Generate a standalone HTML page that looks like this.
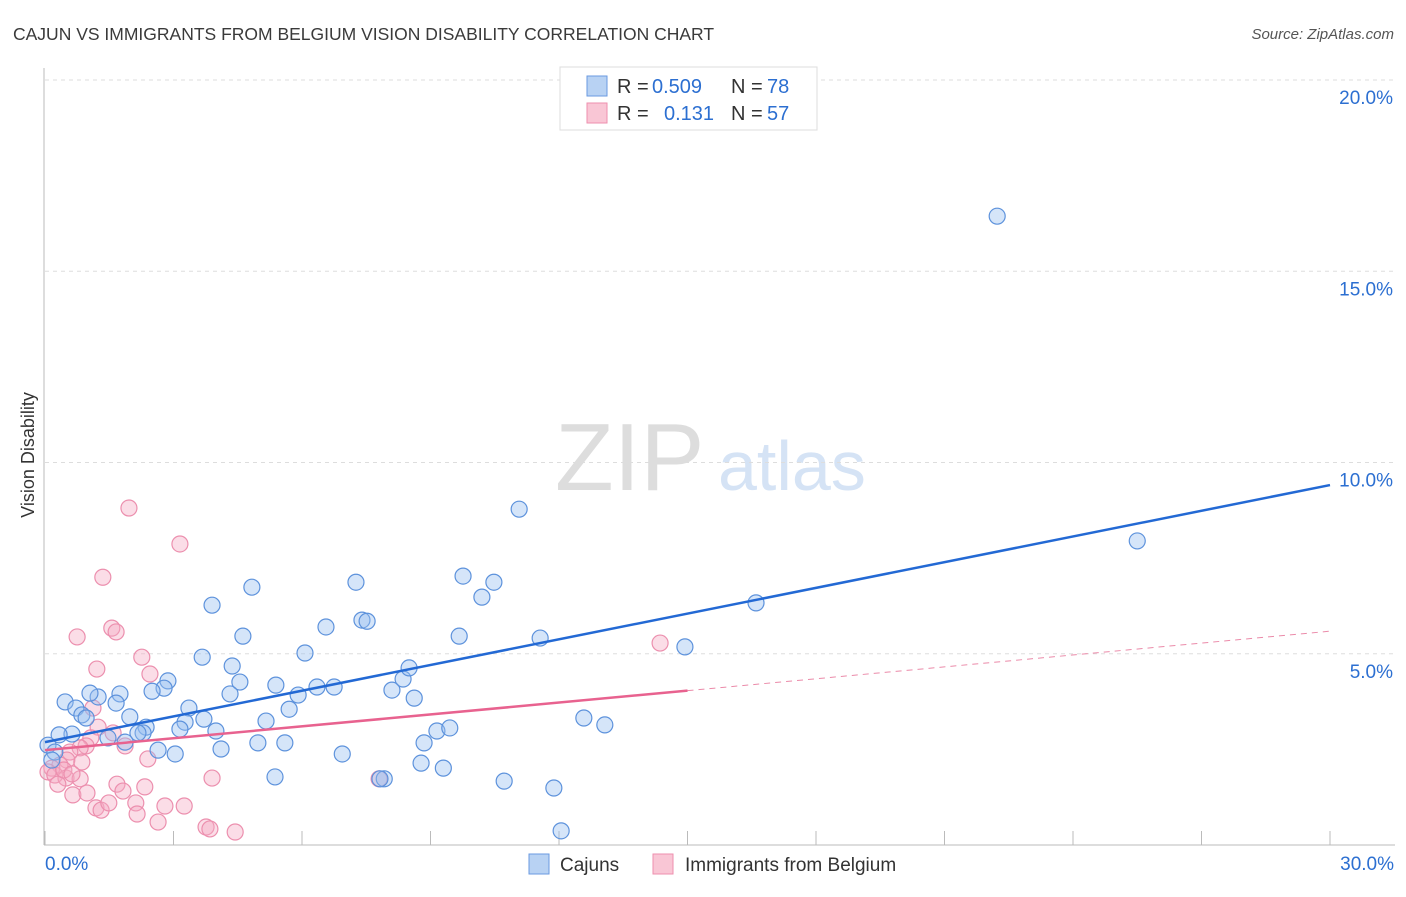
<!DOCTYPE html>
<html><head><meta charset="utf-8"><style>
body{margin:0;background:#fff;font-family:"Liberation Sans",sans-serif;}
svg text{font-family:"Liberation Sans",sans-serif;}
</style></head><body>
<svg id="chart" width="1406" height="892">
<text x="13" y="40" font-size="17.5" fill="#3a3a3a">CAJUN VS IMMIGRANTS FROM BELGIUM VISION DISABILITY CORRELATION CHART</text>
<text x="1394" y="39" font-size="15" fill="#555" font-style="italic" text-anchor="end">Source: ZipAtlas.com</text>
<text x="0" y="0" font-size="18" fill="#333" transform="translate(34,455) rotate(-90)" text-anchor="middle">Vision Disability</text>
<g><text x="555" y="490" font-size="96" fill="#ddd" font-family="Liberation Serif">ZIP</text><text x="718" y="490" font-size="70" fill="#d5e3f5">atlas</text></g>
<g id="grid"></g><g id="axes"></g><g id="pts"></g><g id="lines"></g>
<g>
<rect x="560" y="67" width="257" height="63" fill="#fff" stroke="#ddd"/>
<rect x="587" y="76" width="20" height="20" fill="#b8d2f3" stroke="#6a9ae0"/>
<rect x="587" y="103" width="20" height="20" fill="#f9c6d5" stroke="#ee8fae"/>
<text x="617" y="93" font-size="20" fill="#333">R =</text>
<text x="652" y="93" font-size="20" fill="#2c6fd1">0.509</text>
<text x="731" y="93" font-size="20" fill="#333">N =</text>
<text x="767" y="93" font-size="20" fill="#2c6fd1">78</text>
<text x="617" y="120" font-size="20" fill="#333">R =</text>
<text x="664" y="120" font-size="20" fill="#2c6fd1">0.131</text>
<text x="731" y="120" font-size="20" fill="#333">N =</text>
<text x="767" y="120" font-size="20" fill="#2c6fd1">57</text>
</g>
<g>
<rect x="529" y="854" width="20" height="20" fill="#b8d2f3" stroke="#6a9ae0"/>
<text x="560" y="871" font-size="19" fill="#333">Cajuns</text>
<rect x="653" y="854" width="20" height="20" fill="#f9c6d5" stroke="#ee8fae"/>
<text x="685" y="871" font-size="19" fill="#333">Immigrants from Belgium</text>
</g>
</svg>
<script>
const yTicks=[5,10,15,20];
const yTickLabels=["5.0%","10.0%","15.0%","20.0%"];
const xTicks=[0,3,6,9,12,15,18,21,24,27,30];
const cajunX=[22.23,25.50,16.60,14.94,11.07,9.76,10.48,10.20,11.56,9.67,7.26,7.40,7.52,6.56,4.83,3.90,4.62,6.07,3.67,4.37,4.55,5.39,2.87,2.78,2.50,1.75,1.24,1.05,0.47,0.72,0.86,0.96,1.66,1.98,2.36,2.29,2.17,1.47,1.87,0.63,0.33,0.07,0.23,0.16,3.36,3.27,3.15,3.71,3.99,4.11,3.04,2.64,4.32,5.91,5.70,6.35,6.75,5.16,4.97,5.60,5.37,6.94,7.92,7.82,8.10,8.36,8.50,8.62,9.15,9.45,8.85,8.78,9.30,10.72,11.88,12.58,13.07,12.05];
const cajunY=[16.44,7.95,6.33,5.18,8.78,7.03,6.87,6.48,5.41,5.46,6.87,5.88,5.85,5.70,6.74,6.27,5.46,5.02,4.91,4.68,4.26,4.18,4.29,4.10,4.02,3.95,3.87,3.97,3.74,3.58,3.40,3.32,3.71,3.35,3.08,2.93,2.93,2.80,2.69,2.90,2.88,2.61,2.43,2.22,3.58,3.21,3.03,3.29,2.98,2.51,2.38,2.48,3.95,3.92,3.55,4.13,4.13,3.24,2.67,2.67,1.78,2.38,1.73,1.73,4.05,4.34,4.63,3.84,2.98,3.06,2.67,2.14,2.01,1.67,1.49,3.32,3.14,0.37];
const belX=[1.96,3.15,1.35,0.75,1.56,1.66,2.26,1.21,2.45,14.36,1.12,1.24,1.59,1.07,0.96,1.87,0.82,0.58,0.51,0.86,0.35,0.16,0.07,0.23,0.49,0.82,0.30,0.65,0.98,1.68,1.82,2.33,1.19,1.31,1.49,2.12,2.15,2.64,2.80,3.25,3.90,3.76,3.85,4.44,2.40,7.80,0.44,0.63];
const belY=[8.81,7.87,7.00,5.44,5.67,5.57,4.91,4.60,4.47,5.28,3.58,3.08,2.93,2.80,2.59,2.59,2.54,2.43,2.22,2.17,2.09,2.01,1.91,1.83,1.75,1.73,1.59,1.31,1.36,1.59,1.41,1.52,0.97,0.91,1.10,1.10,0.81,0.60,1.02,1.02,1.75,0.47,0.42,0.34,2.25,1.73,1.96,1.86];
const cajunTrend=[2.69,9.41];
const belTrend=[2.48,5.59];
const belSolidEnd=15;

const X=v=>45+v*(1285/30), Y=v=>845-v*(765/20);
const NS="http://www.w3.org/2000/svg";
function mk(t,a,p){const e=document.createElementNS(NS,t);for(const k in a)e.setAttribute(k,a[k]);p.appendChild(e);return e;}
const grid=document.getElementById('grid'),axes=document.getElementById('axes'),pts=document.getElementById('pts'),lines=document.getElementById('lines');
yTicks.forEach((t,i)=>{
 const l=mk('line',{x1:45,x2:1395,y1:Y(t),y2:Y(t),stroke:'#ddd','stroke-dasharray':'4,4'},grid);
 
 
 const tx=mk('text',{x:1393,y:Y(t)+24,'font-size':19,fill:'#2c6fd1','text-anchor':'end'},axes);
 tx.textContent=yTickLabels[i];
 
 
});
const ax=mk('line',{x1:44,x2:44,y1:68,y2:845,stroke:'#bbb'},axes);


const bx=mk('line',{x1:44,x2:1395,y1:845,y2:845,stroke:'#bbb'},axes);


xTicks.forEach(t=>{
 const l=mk('line',{x1:X(t),x2:X(t),y1:831,y2:845,stroke:'#bbb'},axes);
 
 
});
[[0,'0.0%','start',45],[30,'30.0%','end',1394]].forEach(d=>{
 const tx=mk('text',{x:d[3],y:870,'font-size':19,fill:'#2c6fd1','text-anchor':d[2]},axes);
 tx.textContent=d[1];
 
 
});
belX.forEach((x,i)=>{
 const c=mk('circle',{cx:X(x),cy:Y(belY[i]),r:8,fill:'rgba(246,170,195,0.4)',stroke:'#ec8fae','stroke-width':1.2},pts);
 
 
});
cajunX.forEach((x,i)=>{
 const c=mk('circle',{cx:X(x),cy:Y(cajunY[i]),r:8,fill:'rgba(150,190,240,0.4)',stroke:'#5d92dc','stroke-width':1.2},pts);
 
 
});
const cl=mk('line',{x1:X(0),y1:Y(cajunTrend[0]),x2:X(30),y2:Y(cajunTrend[1]),stroke:'#2369d4','stroke-width':2.5},lines);


const bm=belTrend[0]+(belTrend[1]-belTrend[0])*belSolidEnd/30;
const pl=mk('line',{x1:X(0),y1:Y(belTrend[0]),x2:X(belSolidEnd),y2:Y(bm),stroke:'#e8628f','stroke-width':2.5},lines);


const pd=mk('line',{x1:X(belSolidEnd),y1:Y(bm),x2:X(30),y2:Y(belTrend[1]),stroke:'#eb8aa9','stroke-width':1,'stroke-dasharray':'6,5'},lines);


</script>
</body></html>
